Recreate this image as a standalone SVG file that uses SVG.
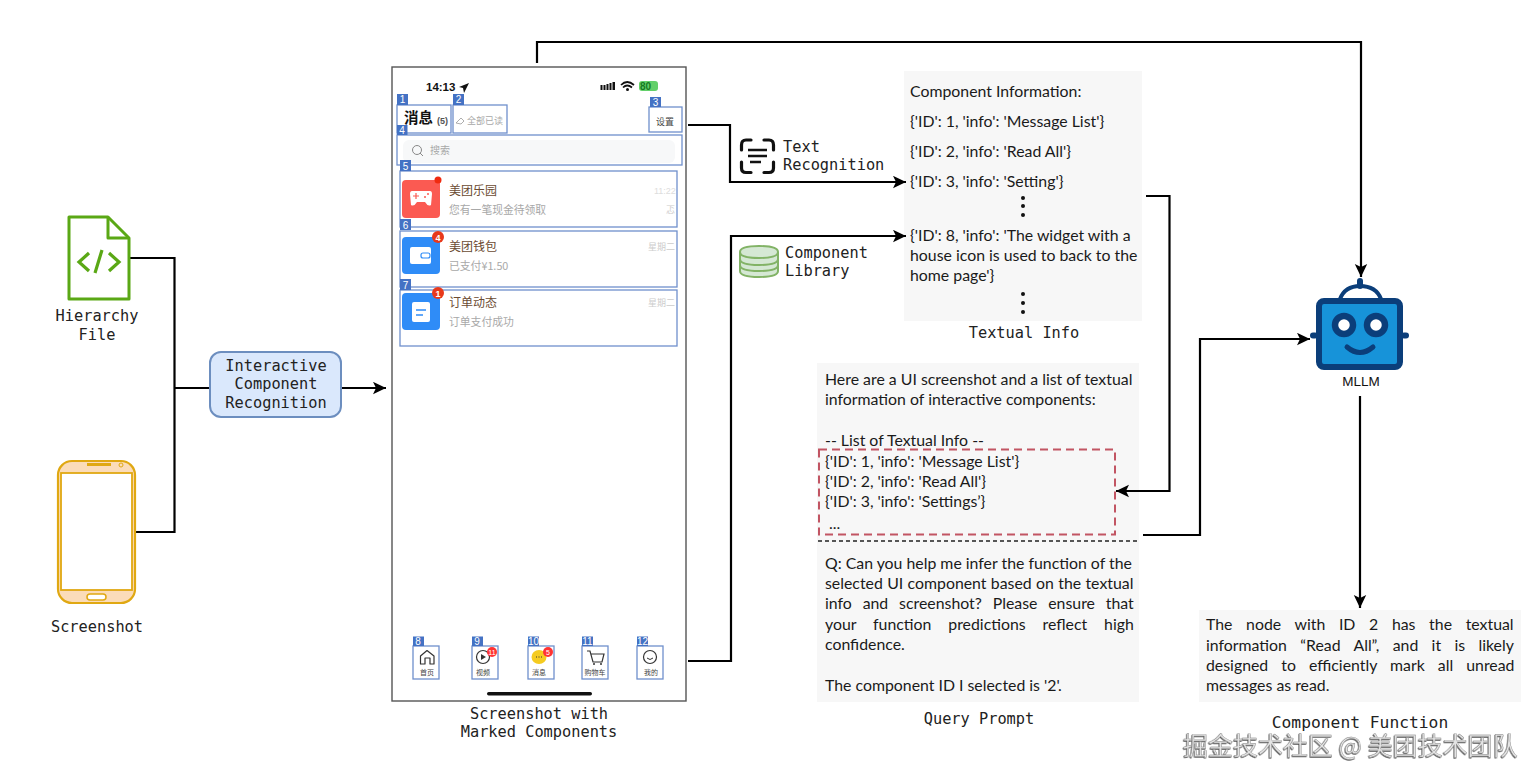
<svg xmlns="http://www.w3.org/2000/svg" width="1540" height="782" viewBox="0 0 1540 782">
<style>
.m{font-family:"DejaVu Sans Mono","Liberation Mono",monospace;font-size:15.300px;fill:#222;text-anchor:middle}
.ml{font-family:"DejaVu Sans Mono","Liberation Mono",monospace;font-size:15.300px;fill:#222}
.b{font-family:Lato,"Open Sans",sans-serif;font-size:15.850px;fill:#1a1a1a}
.c{fill:none;stroke:#000;stroke-width:2.200}
.cn{font-family:"Noto Sans CJK SC",sans-serif}
.box{fill:none;stroke:#6f90cc;stroke-width:1.300}
.tag{fill:#4472c4}
.tagt{font-family:"Liberation Sans",sans-serif;font-size:10px;fill:#fff;text-anchor:middle}
.panel{fill:#f7f7f7}
.t{font-family:"Noto Sans CJK SC",sans-serif;font-size:12px;fill:#6b4b32}
.s{font-family:"Noto Sans CJK SC",sans-serif;font-size:10.800px;fill:#a8a8a8}
.d{font-family:"Noto Sans CJK SC",sans-serif;font-size:9px;fill:#ccc}
.tb{font-family:"Noto Sans CJK SC",sans-serif;font-size:7px;fill:#444;text-anchor:middle}
.num{font-family:"Liberation Sans",sans-serif;font-weight:700;fill:#fff;text-anchor:middle}
</style>
<defs>
<marker id="arr" markerUnits="userSpaceOnUse" markerWidth="14" markerHeight="14" refX="13" refY="6.500" orient="auto"><path d="M0 0.300L13 6.500L0 12.700L3 6.500Z" fill="#000"/></marker>
<filter id="emboss" x="-5%" y="-20%" width="110%" height="140%"><feDropShadow dx="-0.600" dy="0.800" stdDeviation="0.400" flood-color="#333" flood-opacity="0.900"/></filter>
</defs>
<rect width="1540" height="782" fill="#fff"/>

<rect class="panel" x="904" y="71" width="238" height="250"/>
<rect class="panel" x="817" y="363" width="322" height="339"/>
<rect class="panel" x="1199" y="610" width="322" height="92"/>

<g id="connectors">
<path class="c" d="M130 258H174.500V532H135"/>
<path class="c" d="M174 388H210"/>
<path class="c" d="M342 388H386" marker-end="url(#arr)"/>
<path class="c" d="M537 63V42H1361V277" marker-end="url(#arr)"/>
<path class="c" d="M688 125H730V182H906" marker-end="url(#arr)"/>
<path class="c" d="M688 661H731V236H906" marker-end="url(#arr)"/>
<path class="c" d="M1146 196H1169.500V491H1116" marker-end="url(#arr)"/>
<path class="c" d="M1143 535H1200V339H1310" marker-end="url(#arr)"/>
<path class="c" d="M1360 396V608" marker-end="url(#arr)"/>
</g>

<g id="hierarchy-file">
<path d="M69 217H108L129 238V299H69Z" fill="#fff" stroke="#5aa815" stroke-width="3" stroke-linejoin="round"/>
<path d="M108 218V238H128" fill="none" stroke="#5aa815" stroke-width="3" stroke-linejoin="round"/>
<path d="M89 253L79 262L89 271M109 253L119 262L109 271M102 250L95 273" fill="none" stroke="#5aa815" stroke-width="3.200"/>
<text class="m" x="97" y="321">Hierarchy</text>
<text class="m" x="97" y="340">File</text>
</g>

<g id="screenshot">
<rect x="58" y="461" width="77" height="142" rx="14" fill="#fbdcb9" stroke="#e0a812" stroke-width="2.200"/>
<rect x="61" y="473" width="71" height="117" fill="#fff" stroke="#e0a812" stroke-width="1.800"/>
<rect x="87" y="463" width="24" height="3" fill="#e0a812"/>
<circle cx="121" cy="465" r="2" fill="none" stroke="#e0a812"/>
<rect x="87" y="594" width="19" height="6" rx="3" fill="#fff" stroke="#e0a812" stroke-width="1.500"/>
<text class="m" x="97" y="632">Screenshot</text>
</g>

<g id="icr">
<rect x="210" y="352" width="131" height="65" rx="11" fill="#dae8fc" stroke="#6c8ebf" stroke-width="2"/>
<text class="m" x="276" y="371">Interactive</text>
<text class="m" x="276" y="389">Component</text>
<text class="m" x="276" y="408">Recognition</text>
</g>

<g id="marked-screenshot">
<rect x="392" y="67" width="294" height="634" fill="#fff" stroke="#555" stroke-width="1.400"/>
<text x="426" y="91" font-family="Liberation Sans,sans-serif" font-size="11.500" font-weight="700" fill="#111">14:13</text>
<path d="M459 87L469 83L464 93L463 88Z" fill="#111"/>
<g fill="#111"><rect x="600.500" y="85" width="2" height="5"/><rect x="603.500" y="85" width="2" height="5"/><rect x="606.500" y="84" width="2" height="6"/><rect x="609.500" y="83" width="2" height="7"/><rect x="612.500" y="82" width="2.500" height="8"/></g>
<path d="M621 85Q627 79 634 85M623 87.500Q627 83.500 632 87.500" fill="none" stroke="#111" stroke-width="1.700"/><circle cx="627.500" cy="89.500" r="1.500" fill="#111"/>
<rect x="639" y="81" width="19" height="10" rx="3" fill="#63d06a"/>
<text x="640" y="90" font-family="Liberation Sans,sans-serif" font-size="10" font-weight="700" fill="#157a22">80</text>

<rect x="403" y="140" width="272" height="23" rx="6" fill="#f7f8f9"/>
<rect class="box" x="397" y="105" width="54" height="28"/>
<rect class="box" x="453" y="105" width="54" height="28"/>
<rect class="box" x="649" y="107" width="33" height="25"/>
<rect class="box" x="397" y="135" width="285" height="30"/>
<rect class="box" x="400" y="171" width="277" height="56"/>
<rect class="box" x="400" y="231" width="277" height="56"/>
<rect class="box" x="400" y="290" width="277" height="56"/>
<rect class="tag" x="397" y="94" width="11" height="11"/><text class="tagt" x="402.500" y="103">1</text>
<rect class="tag" x="453" y="94" width="11" height="11"/><text class="tagt" x="458.500" y="103">2</text>
<rect class="tag" x="650" y="97" width="11" height="10"/><text class="tagt" x="655.500" y="106">3</text>
<rect class="tag" x="397" y="125" width="10.500" height="10"/><text class="tagt" x="402" y="134">4</text>
<rect class="tag" x="400" y="160" width="11" height="11"/><text class="tagt" x="405.500" y="169.500">5</text>
<rect class="tag" x="400" y="219" width="11" height="11"/><text class="tagt" x="405.500" y="228.500">6</text>
<rect class="tag" x="400" y="279" width="11" height="11"/><text class="tagt" x="405.500" y="288.500">7</text>

<text x="404" y="123" class="cn" font-size="14.500" font-weight="700" fill="#111">消息</text>
<text x="437" y="124" font-family="Liberation Sans,sans-serif" font-size="9" font-weight="700" fill="#555">(5)</text>
<path d="M456 123L461 118L464 121L461 124Z" fill="none" stroke="#999" stroke-width="0.800"/>
<text x="467" y="124" class="cn" font-size="9" fill="#a8a8a8">全部已读</text>
<text x="656" y="125" class="cn" font-size="9" fill="#444">设置</text>
<circle cx="417" cy="150" r="4.500" fill="none" stroke="#888" stroke-width="1"/><path d="M420 153L423 156" stroke="#888"/>
<text x="430" y="154" class="cn" font-size="10" fill="#a8a8a8">搜索</text>

<rect x="402" y="180" width="38" height="38" rx="4" fill="#fb5a52"/>
<path d="M412 191H430Q432 191 432 194L431 205Q428 207 425 202H417Q414 207 411 205L410 194Q410 191 412 191Z" fill="#fff"/>
<path d="M413 196H419M416 193V199" stroke="#fb5a52" stroke-width="1.200"/><circle cx="425" cy="197" r="1" fill="#fb5a52"/><circle cx="428" cy="194" r="1" fill="#fb5a52"/>
<circle cx="438" cy="180" r="3.500" fill="#f02b10"/>
<text x="449" y="195" class="t">美团乐园</text>
<text x="449" y="214" class="s">您有一笔现金待领取</text>
<text x="654" y="194" font-family="Liberation Sans,sans-serif" font-size="9" fill="#ddd">11:22</text>
<text x="666" y="213" class="d">忑</text>

<rect x="402" y="237" width="38" height="37" rx="4" fill="#2f8cf7"/>
<rect x="410" y="247" width="21" height="17" rx="2" fill="#fff"/><rect x="421" y="253" width="9" height="5" rx="2" fill="none" stroke="#2f8cf7" stroke-width="1.200"/>
<circle cx="438" cy="237" r="6" fill="#e8391c"/><text x="438" y="241" class="num" font-size="9">4</text>
<text x="449" y="251" class="t">美团钱包</text>
<text x="449" y="270" class="s">已支付¥1.50</text>
<text x="648" y="250" class="d">星期二</text>

<rect x="402" y="293" width="38" height="37" rx="4" fill="#2f8cf7"/>
<rect x="412" y="302" width="18" height="20" rx="2" fill="#fff"/><path d="M417 301H425M416 310H426M416 315H423" stroke="#2f8cf7" stroke-width="1.300"/>
<circle cx="438" cy="293" r="6" fill="#e8391c"/><text x="438" y="297" class="num" font-size="9">1</text>
<text x="449" y="307" class="t">订单动态</text>
<text x="449" y="326" class="s">订单支付成功</text>
<text x="648" y="306" class="d">星期二</text>

<g>
<rect class="box" x="413" y="646" width="26" height="33"/><rect class="tag" x="413" y="636.500" width="11" height="9.500"/><text class="tagt" x="418" y="645">8</text>
<rect class="box" x="472" y="646" width="26" height="33"/><rect class="tag" x="472" y="636.500" width="11" height="9.500"/><text class="tagt" x="477" y="645">9</text>
<rect class="box" x="528" y="646" width="26" height="33"/><rect class="tag" x="528" y="636.500" width="11" height="9.500"/><text class="tagt" x="533.500" y="645">10</text>
<rect class="box" x="582" y="646" width="26" height="33"/><rect class="tag" x="582" y="636.500" width="11" height="9.500"/><text class="tagt" x="587.500" y="645">11</text>
<rect class="box" x="637" y="646" width="26" height="33"/><rect class="tag" x="637" y="636.500" width="11" height="9.500"/><text class="tagt" x="642.500" y="645">12</text>
</g>
<path d="M420.500 664V656L427 650.500L434 656V664H430V658H425V664Z" fill="none" stroke="#333" stroke-width="1.200" stroke-linejoin="round"/>
<circle cx="483" cy="657" r="6.500" fill="none" stroke="#333" stroke-width="1.200"/><path d="M481 654L486 657L481 660Z" fill="#333"/>
<circle cx="492" cy="652" r="5" fill="#f33"/><text x="492" y="655" font-family="Liberation Sans,sans-serif" font-size="7" fill="#fff" text-anchor="middle">11</text>
<ellipse cx="539" cy="657" rx="7.500" ry="7" fill="#f5cb20"/><path d="M536 657H542" stroke="#333" stroke-dasharray="1 1.500"/>
<circle cx="548" cy="652" r="5" fill="#f33"/><text x="548" y="655" font-family="Liberation Sans,sans-serif" font-size="7" fill="#fff" text-anchor="middle">5</text>
<path d="M587 651H590L593 662H602L604 654H591" fill="none" stroke="#333" stroke-width="1.200"/><circle cx="594" cy="664" r="1" fill="#333"/><circle cx="601" cy="664" r="1" fill="#333"/>
<circle cx="650" cy="657" r="6.500" fill="none" stroke="#333" stroke-width="1.200"/><path d="M647 658Q650 661 653 658" fill="none" stroke="#333"/>
<text class="tb" x="427" y="675">首页</text>
<text class="tb" x="483" y="675">视频</text>
<text class="tb" x="539" y="675">消息</text>
<text class="tb" x="595" y="675">购物车</text>
<text class="tb" x="651" y="675">我的</text>
<rect x="487" y="692" width="105" height="3.500" rx="1.700" fill="#111"/>
<text class="m" x="539" y="719">Screenshot with</text>
<text class="m" x="539" y="737">Marked Components</text>
</g>

<g id="text-recognition">
<path d="M751 140H746Q741.500 140 741.500 145V150M764 140H769Q773.500 140 773.500 145V150M741.500 162V168Q741.500 172.500 746 172.500H751M773.500 162V168Q773.500 172.500 769 172.500H764" fill="none" stroke="#111" stroke-width="3.200" stroke-linecap="round"/>
<path d="M748 150H767M748 156H767M750 162H761" fill="none" stroke="#111" stroke-width="2.400"/>
<text class="ml" x="783" y="152">Text</text>
<text class="ml" x="783" y="170">Recognition</text>
</g>

<g id="component-library">
<path d="M740 252V271Q740 277 759 277Q778 277 778 271V252Q778 246 759 246Q740 246 740 252Z" fill="#d5e8d4" stroke="#82b366" stroke-width="2"/>
<path d="M740 252Q740 258 759 258Q778 258 778 252M740 259Q740 265 759 265Q778 265 778 259M740 265Q740 271 759 271Q778 271 778 265" fill="none" stroke="#82b366" stroke-width="2"/>
<text class="ml" x="785" y="258">Component</text>
<text class="ml" x="785" y="276">Library</text>
</g>

<g id="textual-info">
<text class="b" x="910" y="97">Component Information:</text>
<text class="b" x="910" y="127">{'ID': 1, 'info': 'Message List'}</text>
<text class="b" x="910" y="157">{'ID': 2, 'info': 'Read All'}</text>
<text class="b" x="910" y="187">{'ID': 3, 'info': 'Setting'}</text>
<g fill="#111"><circle cx="1023" cy="198" r="2"/><circle cx="1023" cy="206" r="2"/><circle cx="1023" cy="215" r="2"/><circle cx="1023" cy="294" r="2"/><circle cx="1023" cy="303" r="2"/><circle cx="1023" cy="312" r="2"/></g>
<text class="b" x="910" y="241">{'ID': 8, 'info': 'The widget with a</text>
<text class="b" x="910" y="261">house icon is used to back to the</text>
<text class="b" x="910" y="281">home page'}</text>
<text class="m" x="1024" y="338">Textual Info</text>
</g>

<g id="query-prompt">
<text class="b" x="825" y="385">Here are a UI screenshot and a list of textual</text>
<text class="b" x="825" y="405">information of interactive components:</text>
<text class="b" x="825" y="446">-- List of Textual Info --</text>
<text class="b" x="825" y="467">{'ID': 1, 'info': 'Message List'}</text>
<text class="b" x="825" y="487">{'ID': 2, 'info': 'Read All'}</text>
<text class="b" x="825" y="507">{'ID': 3, 'info': 'Settings’}</text>
<text class="b" x="829" y="529">...</text>
<rect x="819" y="449.500" width="296" height="85" fill="none" stroke="#c25563" stroke-width="2" stroke-dasharray="8 5"/>
<path d="M818 541H1140" fill="none" stroke="#222" stroke-width="1.500" stroke-dasharray="4 3"/>
<text class="b" x="825" y="569">Q: Can you help me infer the function of the</text>
<text class="b" x="825" y="589" word-spacing="0.300">selected UI component based on the textual</text>
<text class="b" x="825" y="609" word-spacing="6.800">info and screenshot? Please ensure that</text>
<text class="b" x="825" y="630" word-spacing="12.800">your function predictions reflect high</text>
<text class="b" x="825" y="650">confidence.</text>
<text class="b" x="825" y="691">The component ID I selected is '2'.</text>
<text class="m" x="979" y="724">Query Prompt</text>
</g>

<g id="mllm">
<rect x="1310" y="332.500" width="8" height="6" rx="3" fill="#0b3e7a"/><rect x="1401" y="332.500" width="8" height="6" rx="3" fill="#0b3e7a"/>
<path d="M1340 299Q1345 286 1360 286Q1376 286 1381 299" fill="none" stroke="#0b3e7a" stroke-width="4"/>
<rect x="1357" y="278" width="6" height="11" rx="3" fill="#0b3e7a"/>
<rect x="1319" y="301" width="81" height="66" rx="5" fill="#1793d9" stroke="#0b3e7a" stroke-width="6"/>
<circle cx="1344" cy="325" r="9" fill="#fff" stroke="#0b3e7a" stroke-width="6.500"/>
<circle cx="1376" cy="325" r="9" fill="#fff" stroke="#0b3e7a" stroke-width="6.500"/>
<path d="M1347 347Q1360 358 1373 347" fill="none" stroke="#0b3e7a" stroke-width="5" stroke-linecap="round"/>
<text x="1361" y="386" font-family="Liberation Sans,sans-serif" font-size="13.500" fill="#111" text-anchor="middle">MLLM</text>
</g>

<g id="component-function">
<text class="b" x="1206" y="630" word-spacing="9.600">The node with ID 2 has the textual</text>
<text class="b" x="1206" y="651" word-spacing="9.300">information “Read All”, and it is likely</text>
<text class="b" x="1206" y="671" word-spacing="9">designed to efficiently mark all unread</text>
<text class="b" x="1206" y="691">messages as read.</text>
<text class="m" x="1360" y="728" style="font-size:16.300px">Component Function</text>
</g>

<text id="watermark" x="1183" y="755" font-family="Noto Sans CJK SC,sans-serif" font-size="25" fill="#e4e4e4" stroke="#8a8a8a" stroke-width="0.400" filter="url(#emboss)">掘金技术社区 @ 美团技术团队</text>
</svg>
